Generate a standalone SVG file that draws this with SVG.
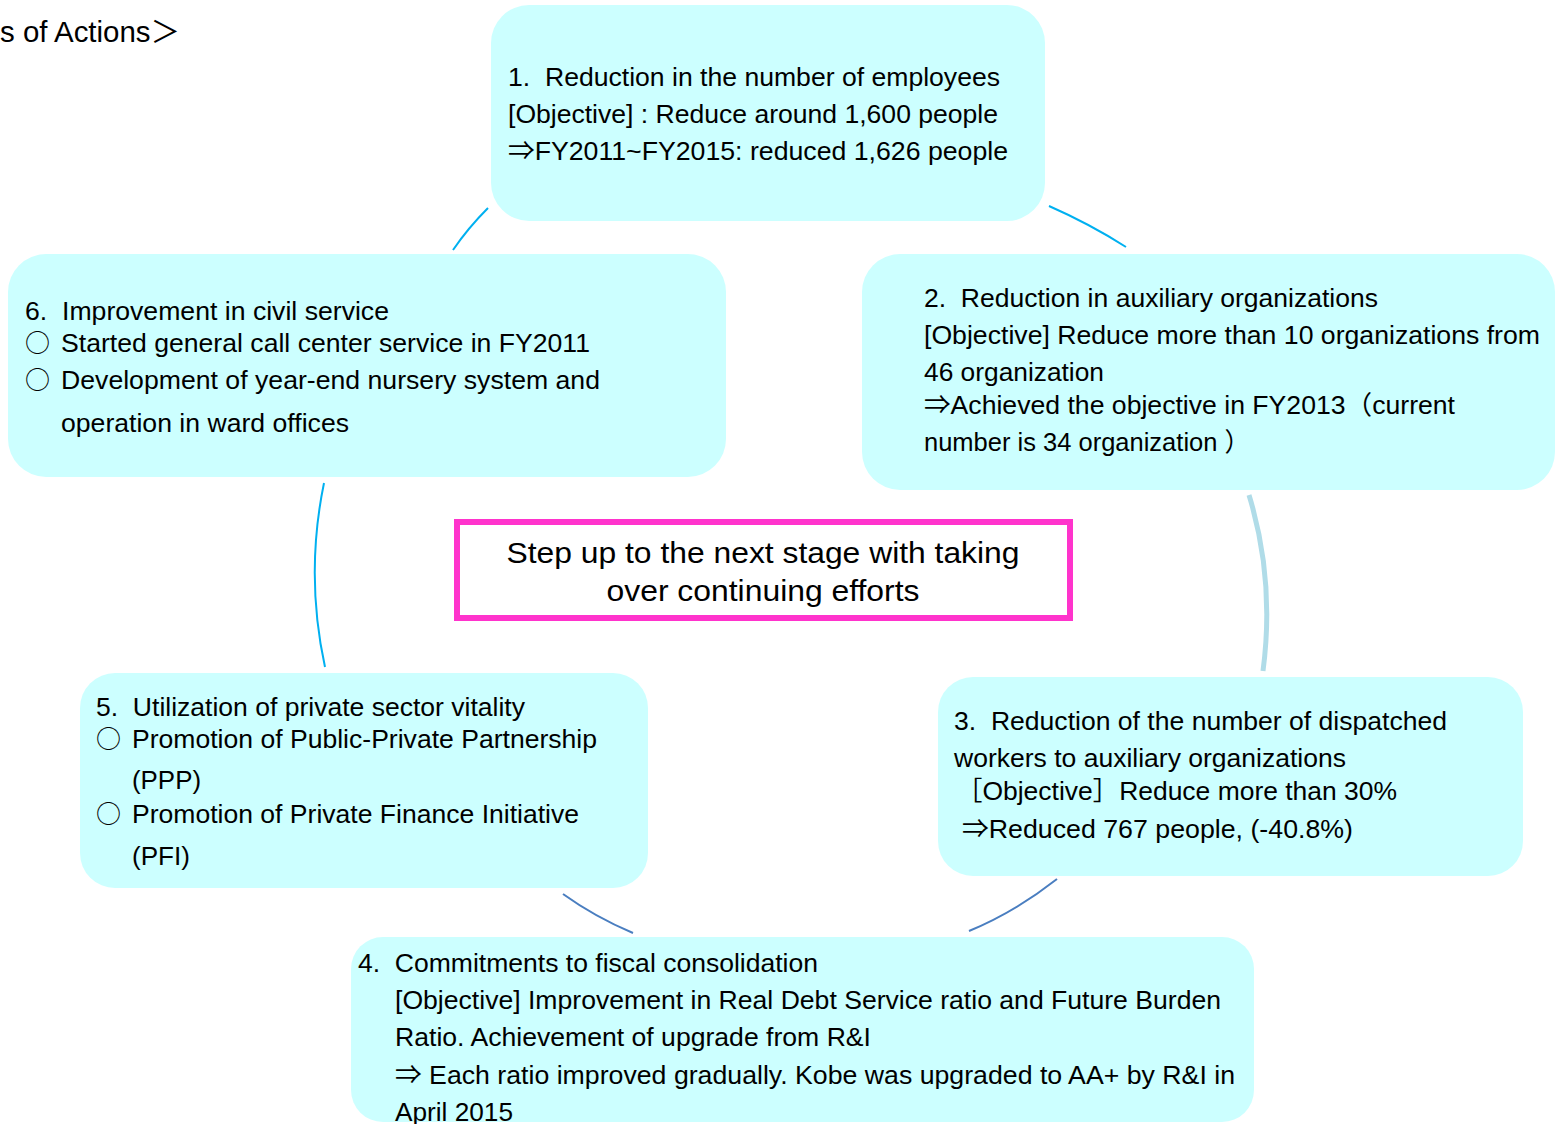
<svg xmlns="http://www.w3.org/2000/svg" width="1555" height="1124" viewBox="0 0 1555 1124">
<style>
text{font-family:"Liberation Sans","Noto Sans CJK JP",Arial,sans-serif;font-size:26px;fill:#000;white-space:pre}
text.bul{font-family:"Noto Sans CJK JP","DejaVu Sans",sans-serif;font-size:25px}
.box{fill:#CCFFFF;stroke:none}
.c1{fill:none;stroke:#00B0F0;stroke-width:2}
.c2{fill:none;stroke:#4A7EC0;stroke-width:2}
.c3{fill:none;stroke:#B0DCE8;stroke-width:5}
</style>
<rect width="1555" height="1124" fill="#fff"/>
<text x="0" y="42" style="font-size:30px" textLength="180" lengthAdjust="spacingAndGlyphs">s of Actions＞</text>
<g id="connectors">
<path class="c1" d="M488,208 Q468,228 453,250"/>
<path class="c1" d="M1049,206 Q1090,224 1126,247"/>
<path class="c3" d="M1249,495 Q1275,580 1263,671"/>
<path class="c1" d="M324,483 Q305,575 325,667"/>
<path class="c2" d="M563,894 Q595,917 633,933"/>
<path class="c2" d="M1057,879 Q1015,912 969,931"/>
</g>
<g id="node1">
<rect class="box" x="491" y="5" width="554" height="216" rx="38"/>
<text x="508" y="86" textLength="492" lengthAdjust="spacingAndGlyphs">1.  Reduction in the number of employees</text>
<text x="508" y="123" textLength="490" lengthAdjust="spacingAndGlyphs">[Objective] : Reduce around 1,600 people</text>
<text x="508" y="160" textLength="500" lengthAdjust="spacingAndGlyphs">⇒FY2011~FY2015: reduced 1,626 people</text>
</g>
<g id="node2">
<rect class="box" x="862" y="254" width="693" height="236" rx="38"/>
<text x="924" y="307" textLength="454" lengthAdjust="spacingAndGlyphs">2.  Reduction in auxiliary organizations</text>
<text x="924" y="344" textLength="616" lengthAdjust="spacingAndGlyphs">[Objective] Reduce more than 10 organizations from</text>
<text x="924" y="381" textLength="180" lengthAdjust="spacingAndGlyphs">46 organization</text>
<text x="924" y="414" textLength="531" lengthAdjust="spacingAndGlyphs">⇒Achieved the objective in FY2013（current</text>
<text x="924" y="451" textLength="326" lengthAdjust="spacingAndGlyphs">number is 34 organization ）</text>
</g>
<g id="node3">
<rect class="box" x="938" y="677" width="585" height="199" rx="35"/>
<text x="954" y="730" textLength="493" lengthAdjust="spacingAndGlyphs">3.  Reduction of the number of dispatched</text>
<text x="954" y="767" textLength="392" lengthAdjust="spacingAndGlyphs">workers to auxiliary organizations</text>
<text x="956" y="800" textLength="441" lengthAdjust="spacingAndGlyphs">［Objective］Reduce more than 30%</text>
<text x="962" y="838" textLength="391" lengthAdjust="spacingAndGlyphs">⇒Reduced 767 people, (-40.8%)</text>
</g>
<g id="node4">
<rect class="box" x="351" y="937" width="903" height="185" rx="32"/>
<text x="358" y="972" textLength="460" lengthAdjust="spacingAndGlyphs">4.  Commitments to fiscal consolidation</text>
<text x="395" y="1009" textLength="826" lengthAdjust="spacingAndGlyphs">[Objective] Improvement in Real Debt Service ratio and Future Burden</text>
<text x="395" y="1046" textLength="476" lengthAdjust="spacingAndGlyphs">Ratio. Achievement of upgrade from R&amp;I</text>
<text x="395" y="1084" textLength="840" lengthAdjust="spacingAndGlyphs">⇒ Each ratio improved gradually. Kobe was upgraded to AA+ by R&amp;I in</text>
<text x="395" y="1121" textLength="118" lengthAdjust="spacingAndGlyphs">April 2015</text>
</g>
<g id="node5">
<rect class="box" x="80" y="673" width="568" height="215" rx="35"/>
<text x="96" y="716" textLength="429" lengthAdjust="spacingAndGlyphs">5.  Utilization of private sector vitality</text>
<text class="bul" x="96" y="748">○</text>
<text x="132" y="748" textLength="465" lengthAdjust="spacingAndGlyphs">Promotion of Public-Private Partnership</text>
<text x="132" y="789" textLength="69" lengthAdjust="spacingAndGlyphs">(PPP)</text>
<text class="bul" x="96" y="823">○</text>
<text x="132" y="823" textLength="447" lengthAdjust="spacingAndGlyphs">Promotion of Private Finance Initiative</text>
<text x="132" y="865" textLength="58" lengthAdjust="spacingAndGlyphs">(PFI)</text>
</g>
<g id="node6">
<rect class="box" x="8" y="254" width="718" height="223" rx="38"/>
<text x="25" y="320" textLength="364" lengthAdjust="spacingAndGlyphs">6.  Improvement in civil service</text>
<text class="bul" x="25" y="352">○</text>
<text x="61" y="352" textLength="529" lengthAdjust="spacingAndGlyphs">Started general call center service in FY2011</text>
<text class="bul" x="25" y="389">○</text>
<text x="61" y="389" textLength="539" lengthAdjust="spacingAndGlyphs">Development of year-end nursery system and</text>
<text x="61" y="432" textLength="288" lengthAdjust="spacingAndGlyphs">operation in ward offices</text>
</g>
<g id="center">
<rect x="457" y="522" width="613" height="96" fill="#fff" stroke="#FF33CC" stroke-width="6"/>
<text x="763" y="563" text-anchor="middle" style="font-size:30px" textLength="513" lengthAdjust="spacingAndGlyphs">Step up to the next stage with taking</text>
<text x="763" y="601" text-anchor="middle" style="font-size:30px" textLength="313" lengthAdjust="spacingAndGlyphs">over continuing efforts</text>
</g>
</svg>
